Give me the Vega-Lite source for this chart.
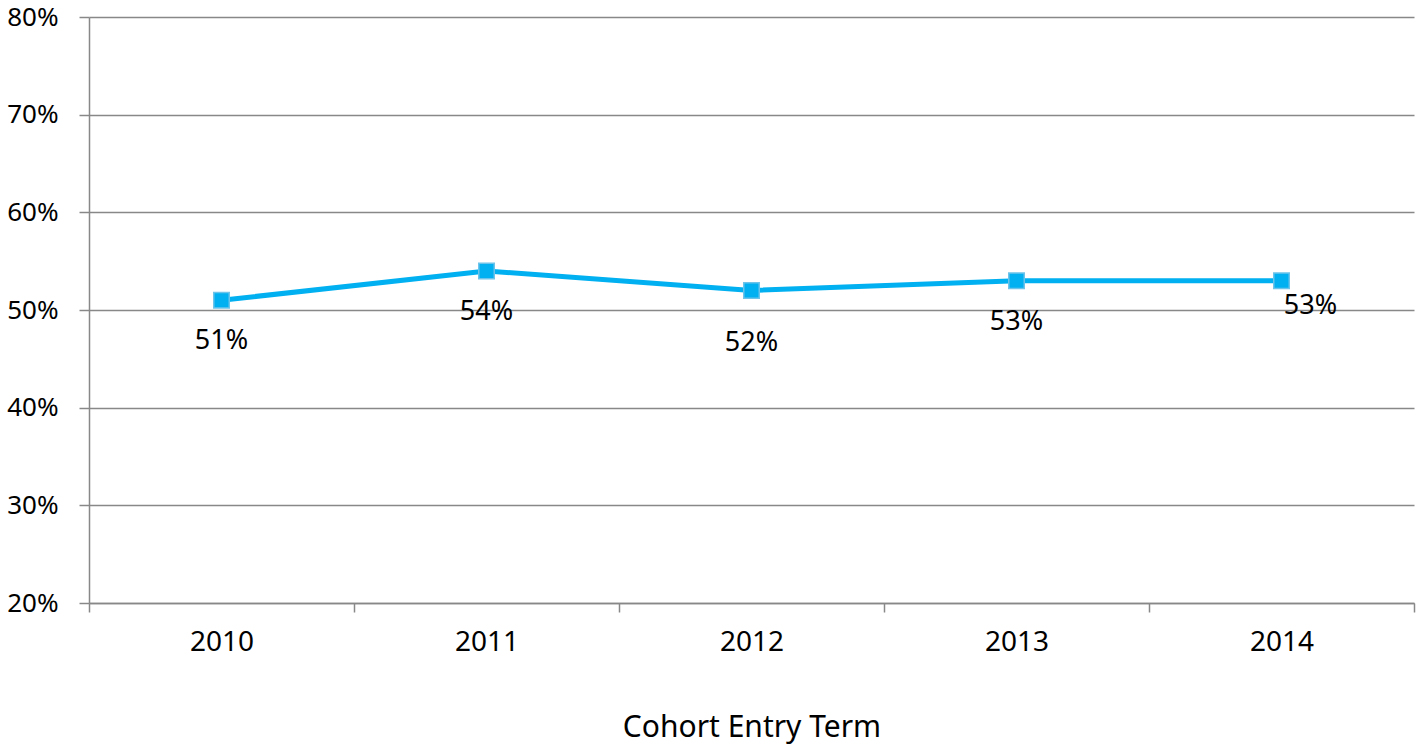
{
  "$schema": "https://vega.github.io/schema/vega-lite/v6.json",
  "width": 1325,
  "height": 586,
  "autosize": {"type": "none"},
  "padding": {"left": 89, "top": 17, "right": 4, "bottom": 143},
  "background": "white",
  "data": {
    "values": [
      {"term": "2010", "rate": 0.51},
      {"term": "2011", "rate": 0.54},
      {"term": "2012", "rate": 0.52},
      {"term": "2013", "rate": 0.53},
      {"term": "2014", "rate": 0.53}
    ]
  },
  "encoding": {
    "x": {
      "field": "term",
      "type": "ordinal",
      "scale": {"type": "band", "paddingInner": 0, "paddingOuter": 0},
      "axis": {
        "title": "Cohort Entry Term",
        "titleFontSize": 30,
        "labelFontSize": 28,
        "labelAngle": 0,
        "tickBand": "extent",
        "tickSize": 9,
        "labelPadding": 16,
        "titlePadding": 56,
        "grid": false
      }
    },
    "y": {
      "field": "rate",
      "type": "quantitative",
      "scale": {"domain": [0.2, 0.8], "nice": false, "zero": false},
      "axis": {
        "title": null,
        "format": ".0%",
        "values": [0.2, 0.3, 0.4, 0.5, 0.6, 0.7, 0.8],
        "tickSize": 10,
        "labelPadding": 21,
        "grid": true
      }
    }
  },
  "layer": [
    {
      "mark": {"type": "line", "color": "#00B0F0", "strokeWidth": 5}
    },
    {
      "mark": {"type": "point", "shape": "square", "filled": true, "size": 240, "fill": "#00B0F0", "stroke": "#6DC3EA", "strokeWidth": 1.5, "opacity": 1}
    },
    {
      "transform": [{"filter": "datum.term == '2010' || datum.term == '2011' || datum.term == '2013'"}],
      "mark": {"type": "text", "dy": 41, "baseline": "middle", "fontSize": 27, "font": "Noto Sans", "color": "black"},
      "encoding": {"text": {"field": "rate", "format": ".0%"}}
    },
    {
      "transform": [{"filter": "datum.term == '2012'"}],
      "mark": {"type": "text", "dy": 53, "baseline": "middle", "fontSize": 27, "font": "Noto Sans", "color": "black"},
      "encoding": {"text": {"field": "rate", "format": ".0%"}}
    },
    {
      "transform": [{"filter": "datum.term == '2014'"}],
      "mark": {"type": "text", "dx": 29, "dy": 25, "baseline": "middle", "fontSize": 27, "font": "Noto Sans", "color": "black"},
      "encoding": {"text": {"field": "rate", "format": ".0%"}}
    }
  ],
  "config": {
    "view": {"stroke": null},
    "axis": {
      "labelFont": "Noto Sans",
      "labelFontSize": 26,
      "labelColor": "black",
      "titleFont": "Noto Sans",
      "titleFontSize": 26,
      "titleFontWeight": "normal",
      "titleColor": "black",
      "domainColor": "#888888",
      "domainWidth": 1.5,
      "tickColor": "#888888",
      "tickWidth": 1.5,
      "gridColor": "#888888",
      "gridWidth": 1.5,
      "gridOpacity": 1
    }
  }
}
